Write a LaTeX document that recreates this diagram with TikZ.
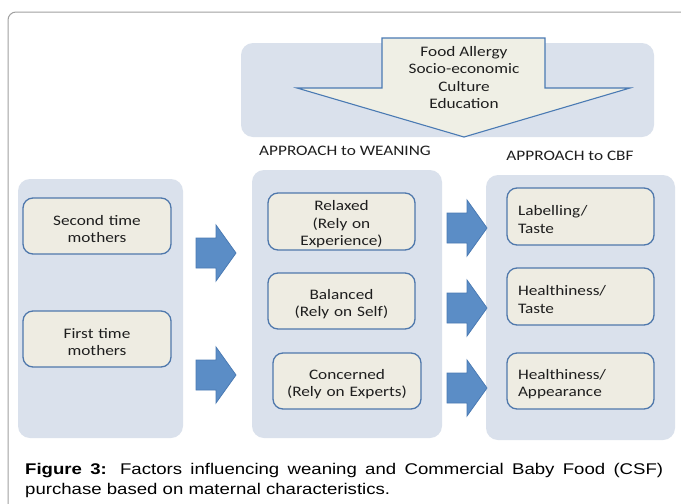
\documentclass[tikz,border=0pt]{standalone}
\usepackage{fontspec}
\setmainfont{Carlito}[FakeStretch=1.19]
\newfontfamily\capfont{Liberation Sans}[FakeStretch=1.2]
\definecolor{panelc}{HTML}{DAE1EC}
\definecolor{boxfill}{HTML}{EEECE2}
\definecolor{boxline}{HTML}{4F78AC}
\definecolor{arrfill}{HTML}{5B8DC6}
\definecolor{arrline}{HTML}{4A7AB3}
\definecolor{bigfill}{HTML}{EFEFE5}
\definecolor{txt}{HTML}{1E1E1E}
\definecolor{framec}{HTML}{A0A0A0}
\tikzset{
  panel/.style={fill=panelc, draw=none, rounded corners=12pt, inner sep=0pt},
  itembox/.style={fill=boxfill, draw=boxline, line width=1.3pt, rounded corners=10pt,
    minimum width=147pt, minimum height=56pt, align=center, text width=140pt, inner sep=0pt,
    text=txt, font=\fontsize{14.5}{17.5}\selectfont,
    execute at begin node={\rule{0pt}{16pt}}},
  leftbox/.style={itembox, align=left, text width=125pt},
  headtxt/.style={text=txt, font=\fontsize{14.5}{17.5}\selectfont, inner sep=0pt},
  blockarrow/.style={fill=arrfill, draw=arrline, line width=0.8pt, line join=miter},
  pics/barrow/.style={code={
    \path[blockarrow] (0,-15) -- (20,-15) -- (20,-28) -- (40,0) -- (20,28) -- (20,15) -- (0,15) -- cycle;
  }}
}
\begin{document}
\begin{tikzpicture}[x=1pt, y=-1pt]
\useasboundingbox (0,0) rectangle (681,504);
\clip (0,0) rectangle (681,504);
\fill[white] (0,0) rectangle (681,504);
% frame
\draw[framec, line width=1pt, rounded corners=8pt] (8,520) -- (8,12) -- (700,12);
% panels
\node[panel, minimum width=413pt, minimum height=94pt] (toppanel) at (447.5,90) {};
\node[panel, minimum width=165pt, minimum height=259pt] (leftpanel) at (100.5,308.5) {};
\node[panel, minimum width=190pt, minimum height=268pt] (midpanel) at (347,304) {};
\node[panel, minimum width=189pt, minimum height=265pt] (rightpanel) at (580.5,307.5) {};
% big arrow
\path[fill=bigfill, draw=arrline, line width=1.1pt, line join=miter]
  (382,38) -- (545,38) -- (545,88) -- (630,88) -- (464,137) -- (297,88) -- (382,88) -- cycle;
\node[headtxt, align=center] (factors) at (464,77.5) {Food Allergy\\Socio-economic\\Culture\\Education};
% headers
\node[headtxt] (hweaning) at (345,151) {APPROACH to WEANING};
\node[headtxt] (hcbf) at (570,156) {APPROACH to CBF};
% left boxes
\node[itembox, minimum width=148pt] (second) at (97,226) {Second time\\mothers};
\node[itembox, minimum width=148pt] (first) at (97,339) {First time\\mothers};
% middle boxes
\node[itembox, minimum height=57pt] (relaxed) at (341.5,221.5) {Relaxed\\(Rely on\\Experience)};
\node[itembox] (balanced) at (341.5,301) {Balanced\\(Rely on Self)};
\node[itembox, minimum width=148pt] (concerned) at (347,381) {Concerned\\(Rely on Experts)};
% right boxes
\node[leftbox, minimum height=57pt] (labelling) at (580.5,216.5) {Labelling/\\Taste};
\node[leftbox, minimum height=57pt] (healthtaste) at (580.5,296.5) {Healthiness/\\Taste};
\node[leftbox] (healthapp) at (580.5,381) {Healthiness/\\Appearance};
% block arrows
\pic at (196,253) {barrow};
\pic at (196,375) {barrow};
\pic at (447,228) {barrow};
\pic at (447,308) {barrow};
\pic at (447,388) {barrow};
% caption
\node[anchor=base west, inner sep=0pt, text=black, font=\capfont\fontsize{15.5}{20}\selectfont] (cap1) at (25,474.5)
  {\hbox to 638pt{\textbf{Figure 3:} Factors influencing weaning and Commercial Baby Food (CSF)}};
\node[anchor=base west, inner sep=0pt, text=black, font=\capfont\fontsize{15.5}{20}\selectfont] (cap2) at (25,494.5)
  {purchase based on maternal characteristics.};
\end{tikzpicture}
\end{document}
